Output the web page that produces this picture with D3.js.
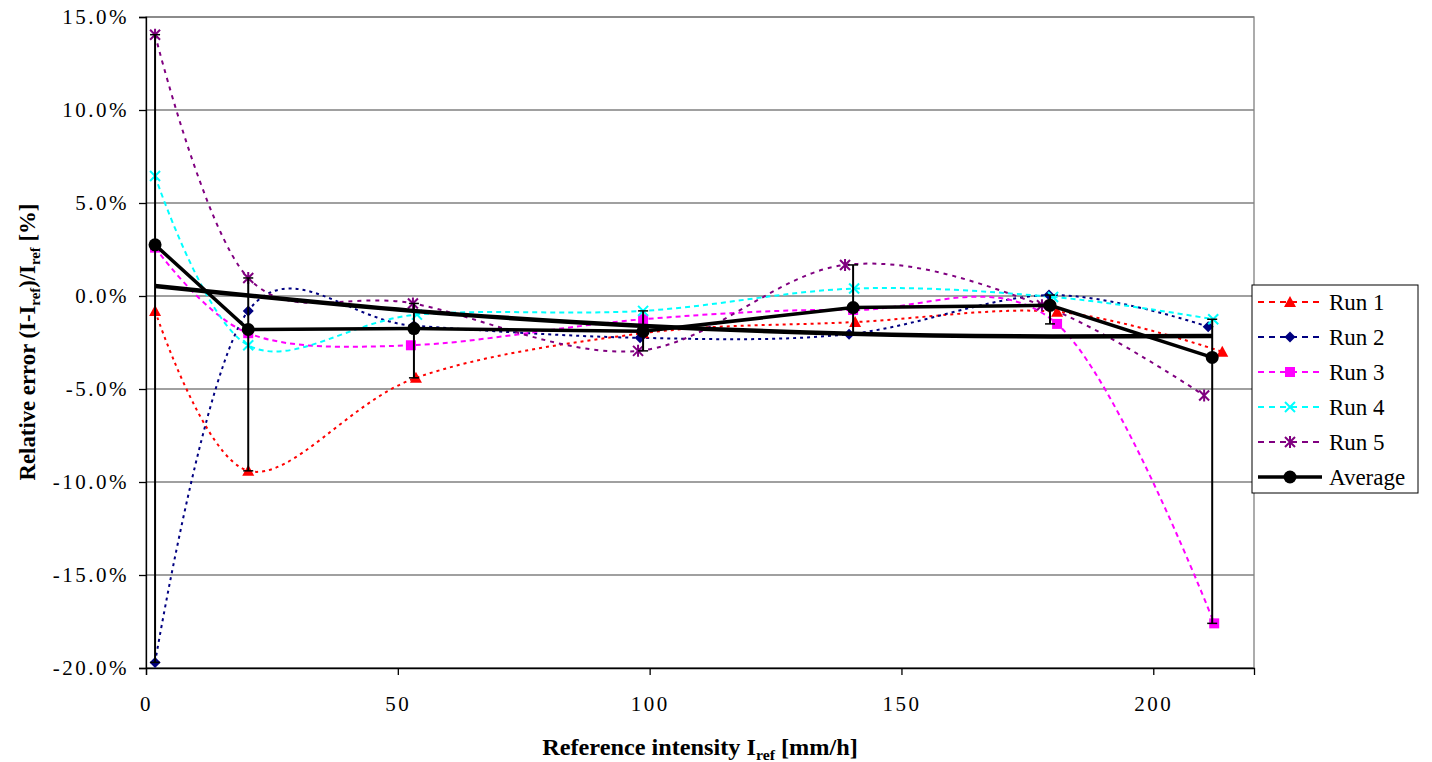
<!DOCTYPE html>
<html><head><meta charset="utf-8">
<script src="https://cdn.jsdelivr.net/npm/d3@7"></script>
<style>
body{margin:0;background:#fff;}
svg{display:block;}
text{font-family:"Liberation Serif","Times New Roman",serif;fill:#000;}
</style>
</head><body>
<svg id="chart" width="1432" height="762"></svg>
<script>
// ---- data ----
const xTicks = [0, 50, 100, 150, 200];
const yTicks = [-20, -15, -10, -5, 0, 5, 10, 15];

const run1X = [1.8, 20.3, 53.6, 98.7, 140.8, 180.9, 213.7];
const run1Y = [-0.8, -9.4, -4.4, -2.0, -1.4, -0.85, -3.0];
const run2X = [1.8, 20.3, 53.2, 98.1, 139.6, 179.3, 210.9];
const run2Y = [-19.7, -0.8, -1.6, -2.25, -2.05, 0.05, -1.65];
const run3X = [1.8, 20.3, 52.6, 98.7, 140.4, 180.9, 212.1];
const run3Y = [2.6, -2.0, -2.65, -1.25, -0.75, -1.5, -17.6];
const run4X = [1.8, 20.3, 53.8, 98.7, 140.6, 180.1, 211.9];
const run4Y = [6.45, -2.65, -1.0, -0.8, 0.4, -0.05, -1.25];
const run5X = [1.8, 20.3, 53.0, 97.7, 138.8, 177.9, 210.1];
const run5Y = [14.05, 0.97, -0.4, -2.95, 1.67, -0.5, -5.35];
const avgX = [1.8, 20.3, 53.2, 98.7, 140.4, 179.5, 211.7];
const avgY = [2.75, -1.8, -1.75, -1.9, -0.62, -0.5, -3.3];
// trend line (curved)
const trendX = [1.8, 53, 100, 140, 180, 211.7];
const trendY = [0.54, -0.8, -1.62, -2.03, -2.18, -2.15];

const runNames = ["Run 1", "Run 2", "Run 3", "Run 4", "Run 5"];
const runColors = ["#FF0000", "#000080", "#FF00FF", "#00FFFF", "#800080"];
const runMarkers = ["triangle", "diamond", "square", "x", "star"];
const runDash = ["3,4", "3,4", "5,4", "5,4", "4,5"];

const runsX = [run1X, run2X, run3X, run4X, run5X];
const runsY = [run1Y, run2Y, run3Y, run4Y, run5Y];

// ---- layout ----
const svg = d3.select("#chart");
const L = 146, R = 1254, T = 17, B = 668;
const x = d3.scaleLinear().domain([0, 220]).range([L, R]);
const y = d3.scaleLinear().domain([-20, 15]).range([B, T]);
const FONT = '"Liberation Serif","Times New Roman",serif';

// plot area border / gridlines
svg.append("rect").attr("x", L).attr("y", T).attr("width", R - L).attr("height", B - T)
  .attr("fill", "#fff").attr("stroke", "#808080").attr("stroke-width", 1.3);
svg.append("g").selectAll("line").data(yTicks).join("line")
  .attr("x1", L).attr("x2", R).attr("y1", d => y(d)).attr("y2", d => y(d))
  .attr("stroke", "#808080").attr("stroke-width", 1.3);

// axes
const yAxis = d3.axisLeft(y).tickValues(yTicks).tickSize(7).tickPadding(10)
  .tickFormat(d => d.toFixed(1) + "%");
const gy = svg.append("g").attr("transform", `translate(${L},0)`).call(yAxis);
gy.attr("font-family", null).attr("font-size", null);
gy.select(".domain").attr("stroke", "#000").attr("stroke-width", 1.3);
gy.selectAll(".tick line").attr("stroke", "#000").attr("stroke-width", 1.3);
gy.selectAll(".tick text").style("font-size", "21px").style("letter-spacing", "2.5px")
  .style("font-family", FONT).attr("fill", "#000");

const xAxis = d3.axisBottom(x).tickValues(xTicks).tickSize(7).tickPadding(21)
  .tickFormat(d3.format("d"));
const gx = svg.append("g").attr("transform", `translate(0,${B})`).call(xAxis);
gx.attr("font-family", null).attr("font-size", null);
gx.select(".domain").attr("stroke", "#000").attr("stroke-width", 1.3);
gx.selectAll(".tick line").attr("stroke", "#000").attr("stroke-width", 1.3);
gx.selectAll(".tick text").style("font-size", "21px").style("letter-spacing", "2.5px")
  .style("font-family", FONT).attr("fill", "#000");

// marker drawing
function marker(g, type, color, cx, cy) {
  const t = `translate(${cx},${cy})`;
  if (type === "triangle") {
    g.append("path").attr("d", "M0,-6L6,5L-6,5Z").attr("transform", t).attr("fill", color);
  } else if (type === "diamond") {
    g.append("path").attr("d", "M0,-5.5L5.5,0L0,5.5L-5.5,0Z").attr("transform", t).attr("fill", color);
  } else if (type === "square") {
    g.append("path").attr("d", "M-5,-5h10v10h-10Z").attr("transform", t).attr("fill", color);
  } else if (type === "x") {
    g.append("path").attr("d", "M-5,-5L5,5M-5,5L5,-5").attr("transform", t)
      .attr("stroke", color).attr("stroke-width", 2).attr("fill", "none");
  } else if (type === "star") {
    g.append("path").attr("d", "M-5,-5L5,5M-5,5L5,-5M0,-6L0,6").attr("transform", t)
      .attr("stroke", color).attr("stroke-width", 2).attr("fill", "none");
  } else if (type === "circle") {
    g.append("circle").attr("cx", cx).attr("cy", cy).attr("r", 6.5).attr("fill", color);
  }
}

// runs (smoothed lines)
const smooth = d3.line().x(d => x(d[0])).y(d => y(d[1])).curve(d3.curveCardinal.tension(0));
runsX.forEach((xs, k) => {
  const pts = xs.map((v, i) => [v, runsY[k][i]]);
  svg.append("path").attr("d", smooth(pts)).attr("fill", "none")
    .attr("stroke", runColors[k]).attr("stroke-width", 2).attr("stroke-dasharray", runDash[k]);
});
runsX.forEach((xs, k) => {
  const g = svg.append("g");
  xs.forEach((v, i) => marker(g, runMarkers[k], runColors[k], x(v), y(runsY[k][i])));
});

// trend line
const curved = d3.line().x(d => x(d[0])).y(d => y(d[1])).curve(d3.curveNatural);
svg.append("path").attr("d", curved(trendX.map((v, i) => [v, trendY[i]])))
  .attr("fill", "none").attr("stroke", "#000").attr("stroke-width", 4.5);

// error bars (min/max of runs)
const eb = svg.append("g");
avgX.forEach((v, i) => {
  const vals = runsY.map(r => r[i]);
  const lo = d3.min(vals), hi = d3.max(vals);
  eb.append("line").attr("x1", x(v)).attr("x2", x(v)).attr("y1", y(hi)).attr("y2", y(lo))
    .attr("stroke", "#000").attr("stroke-width", 2);
  [lo, hi].forEach(e => eb.append("line").attr("x1", x(v) - 5).attr("x2", x(v) + 5)
    .attr("y1", y(e)).attr("y2", y(e)).attr("stroke", "#000").attr("stroke-width", 1.5));
});

// average
const straight = d3.line().x(d => x(d[0])).y(d => y(d[1]));
svg.append("path").attr("d", straight(avgX.map((v, i) => [v, avgY[i]])))
  .attr("fill", "none").attr("stroke", "#000").attr("stroke-width", 3.5);
const ga = svg.append("g");
avgX.forEach((v, i) => marker(ga, "circle", "#000", x(v), y(avgY[i])));

// legend
const lg = svg.append("g");
lg.append("rect").attr("x", 1252).attr("y", 285).attr("width", 166).attr("height", 208)
  .attr("fill", "#fff").attr("stroke", "#000").attr("stroke-width", 1);
const names = runNames.concat(["Average"]);
names.forEach((n, i) => {
  const yy = 302 + i * 35;
  const isAvg = i === 5;
  lg.append("line").attr("x1", 1258).attr("x2", 1322).attr("y1", yy).attr("y2", yy)
    .attr("stroke", isAvg ? "#000" : runColors[i]).attr("stroke-width", isAvg ? 3.5 : 2)
    .attr("stroke-dasharray", isAvg ? null : "6,5");
  marker(lg, isAvg ? "circle" : runMarkers[i], isAvg ? "#000" : runColors[i], 1290, yy);
  lg.append("text").attr("x", 1329).attr("y", yy + 8).style("font-size", "23px").text(n);
});

// axis titles (fit to the reference widths)
function fitTitle(g, target) {
  const w = g.node().getBBox().width;
  return target / w;
}
const ytG = svg.append("g");
const yt = ytG.append("text").attr("text-anchor", "middle").style("font-size", "23px").attr("font-weight", "bold");
yt.append("tspan").text("Relative error (I-I");
yt.append("tspan").style("font-size", "15px").attr("dy", 5).text("ref");
yt.append("tspan").attr("dy", -5).text(")/I");
yt.append("tspan").style("font-size", "15px").attr("dy", 5).text("ref");
yt.append("tspan").attr("dy", -5).text(" [%]");
const sy = fitTitle(ytG, 277);
ytG.attr("transform", `translate(35,342) rotate(-90) scale(${sy},1)`);

const xtG = svg.append("g");
const xt = xtG.append("text").attr("text-anchor", "middle").style("font-size", "23px").attr("font-weight", "bold");
xt.append("tspan").text("Reference intensity I");
xt.append("tspan").style("font-size", "15px").attr("dy", 5).text("ref");
xt.append("tspan").attr("dy", -5).text(" [mm/h]");
const sx = fitTitle(xtG, 316);
xtG.attr("transform", `translate(700,755) scale(${sx},1)`);
</script>
</body></html>
